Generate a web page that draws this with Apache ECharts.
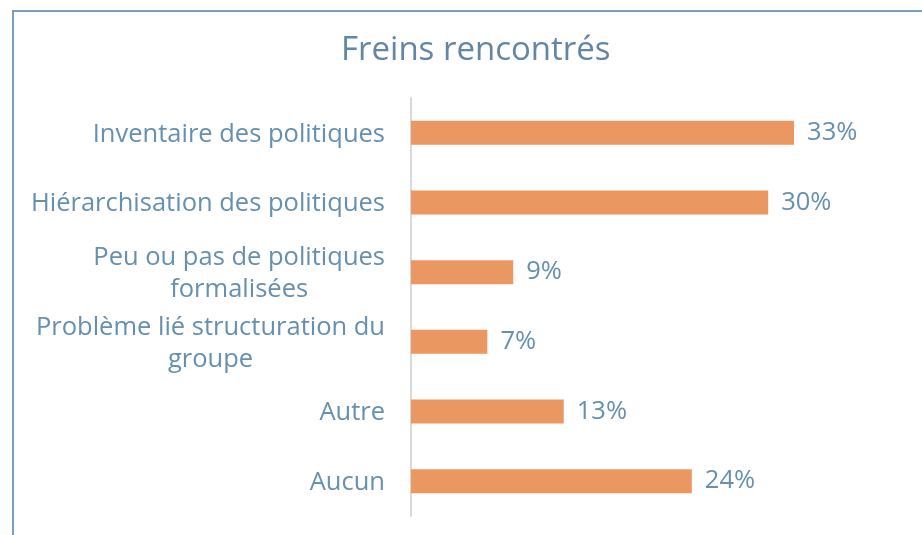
<!DOCTYPE html>
<html>
<head>
<meta charset="utf-8">
<script src="https://cdn.jsdelivr.net/npm/echarts@6/dist/echarts.min.js"></script>
<style>
html,body{margin:0;padding:0;background:#fff;}
#c{width:922px;height:535px;}
</style>
</head>
<body>
<div id="c"></div>
<script>
var categories = [
  "Inventaire des politiques",
  "Hiérarchisation des politiques",
  "Peu ou pas de politiques\nformalisées",
  "Problème lié structuration du\ngroupe",
  "Autre",
  "Aucun"
];
var values = [32.6, 30.4, 8.7, 6.5, 13.0, 23.9];
var valueLabels = ["33%", "30%", "9%", "7%", "13%", "24%"];

var textColor = '#6590b0';
var font = 'Open Sans';

var chart = echarts.init(document.getElementById('c'), null, {renderer: 'canvas'});
chart.setOption({
  animation: false,
  backgroundColor: '#ffffff',
  title: {
    text: 'Freins rencontrés',
    left: 336,
    top: 29,
    textStyle: {color: '#6287a6', fontFamily: font, fontWeight: 'normal', fontSize: 33}
  },
  graphic: [{
    type: 'rect',
    shape: {x: 13, y: 11, width: 1000, height: 600},
    style: {fill: 'none', stroke: '#7a9fbd', lineWidth: 2},
    silent: true
  }],
  grid: {left: 411, right: 41, top: 98, bottom: 19, containLabel: false},
  xAxis: {
    type: 'value', min: 0, max: 40,
    show: false
  },
  yAxis: {
    type: 'category',
    inverse: true,
    data: categories,
    axisLine: {show: true, lineStyle: {color: '#d9d9d9', width: 2}},
    axisTick: {show: false},
    axisLabel: {
      margin: 26,
      color: textColor,
      fontFamily: font,
      fontSize: 25.5,
      lineHeight: 32,
      formatter: function (v) {
        return v.split('\n').map(function (l) { return '{c|' + l + '}'; }).join('\n');
      },
      rich: {c: {align: 'center', color: textColor, fontFamily: font, fontSize: 25.5, lineHeight: 32, padding: [3, 0, 0, 0]}}
    }
  },
  series: [{
    type: 'bar',
    data: values,
    barWidth: 24,
    itemStyle: {color: '#eb9762'},
    label: {
      show: true,
      position: 'right',
      distance: 13,
      color: textColor,
      fontFamily: font,
      fontSize: 25.5,
      padding: [4, 0, 0, 0],
      formatter: function (p) { return valueLabels[p.dataIndex]; }
    }
  }]
});
</script>
</body>
</html>
